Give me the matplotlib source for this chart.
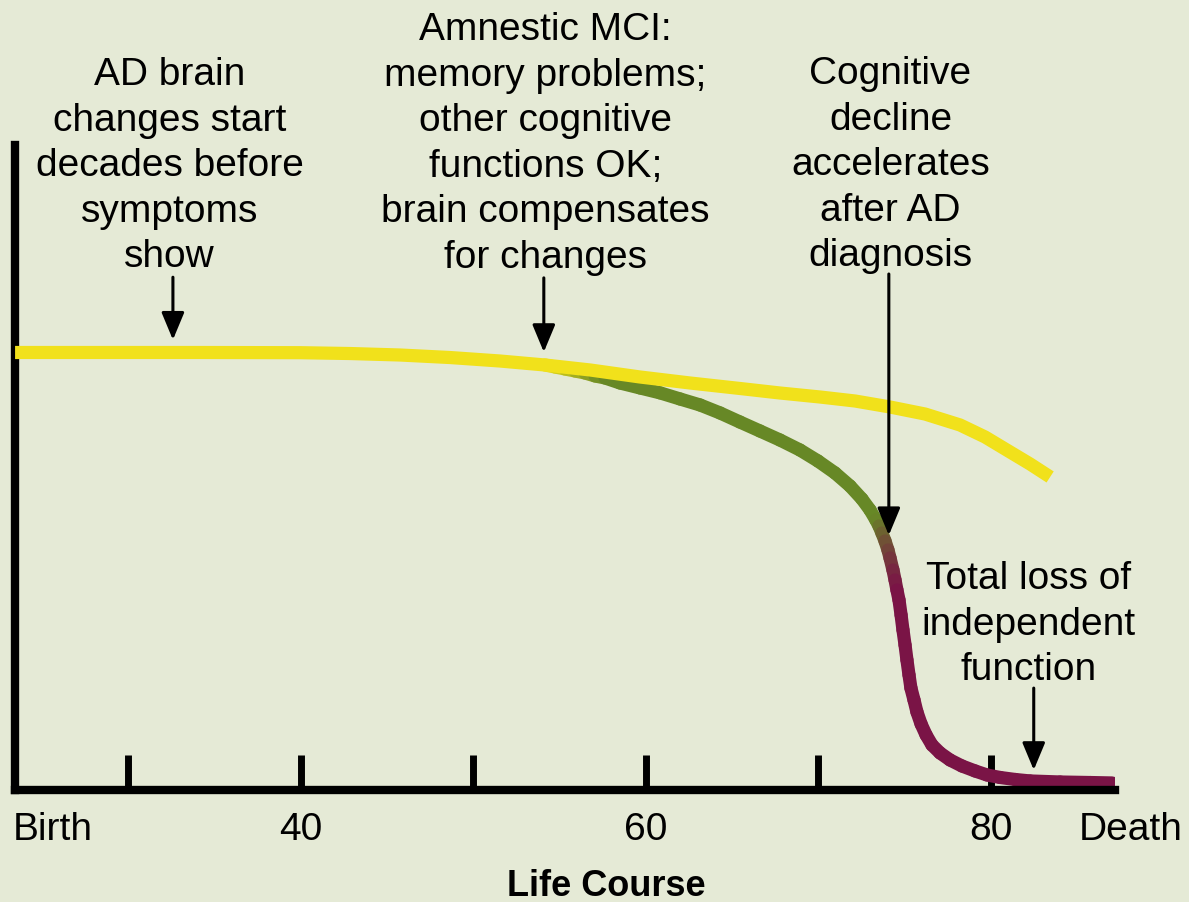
import numpy as np
import matplotlib.pyplot as plt
from matplotlib.collections import LineCollection
from matplotlib.colors import to_rgb

# Schematic values (x = age, y = cognitive function, 0-100)
normal_age = [23.45, 28.37, 34.17, 39.97, 42.87, 45.77, 48.66, 51.56, 54.17, 56.78, 59.68,
              62.58, 65.47, 67.79, 70.11, 72.14, 74.17, 76.20, 78.23, 79.68, 81.13, 82.29, 83.45]
normal_val = [67.83, 67.83, 67.83, 67.80, 67.67, 67.44, 67.05, 66.51, 65.89, 65.12, 64.03,
              63.10, 62.25, 61.55, 60.93, 60.31, 59.38, 58.29, 56.59, 54.73, 52.40, 50.54, 48.53]

ad_age = [54.17, 54.75, 55.33, 55.91, 56.49, 57.07, 57.65, 58.52, 59.68, 60.84, 62.00, 63.16,
          64.32, 65.47, 66.63, 67.79, 68.95, 69.99, 70.98, 71.85, 72.54, 73.01, 73.35, 73.53,
          73.70, 73.88, 74.05, 74.17, 74.34, 74.46, 74.57, 74.69, 74.81, 74.92, 75.04, 75.15,
          75.27, 75.38, 75.56, 75.73, 75.97, 76.26, 76.60, 77.07, 77.65, 78.34, 79.10, 79.79,
          80.55, 81.42, 82.29, 84.03, 85.77, 87.04]
ad_val = [65.89, 65.58, 65.27, 64.96, 64.65, 64.19, 63.88, 63.10, 62.33, 61.57, 60.62, 59.69,
          58.45, 57.05, 55.66, 54.26, 52.71, 51.01, 49.15, 47.13, 45.12, 43.41, 41.86, 40.93,
          39.84, 38.60, 37.21, 35.97, 34.11, 32.56, 31.01, 29.46, 27.13, 24.81, 22.48, 20.16,
          17.83, 15.81, 13.95, 12.09, 10.23, 8.53, 6.98, 5.74, 4.65, 3.72, 2.95, 2.33,
          1.94, 1.63, 1.40, 1.24, 1.16, 1.09]

tick_ages = [30, 40, 50, 60, 70, 80]
tick_labels = ['', '40', '', '60', '', '80']

notes = [
    ("AD brain\nchanges start\ndecades before\nsymptoms\nshow", 32.4, 113.6),
    ("Amnestic MCI:\nmemory problems;\nother cognitive\nfunctions OK;\nbrain compensates\nfor changes", 54.2, 120.6),
    ("Cognitive\ndecline\naccelerates\nafter AD\ndiagnosis", 74.2, 113.8),
    ("Total loss of\nindependent\nfunction", 82.2, 35.5),
]
# arrows: x, tail, tip
arrows = [(32.6, 79.5, 69.8), (54.1, 79.4, 67.9), (74.1, 80.0, 39.5), (82.5, 15.8, 3.1)]

bg = '#e5ead6'
yellow = '#f1e11b'
green = '#678826'
maroon = '#7a1446'

plt.rcParams['font.family'] = ['Liberation Sans', 'DejaVu Sans']

fig = plt.figure(figsize=(11.89, 9.02), dpi=100, facecolor=bg)
ax = fig.add_axes([0.01262, 0.12417, 0.92515, 0.71508], facecolor=bg)

# AD path with colour fading yellow -> green -> maroon
pts = np.column_stack([ad_age, ad_val])
segs = np.stack([pts[:-1], pts[1:]], axis=1)
mid = (np.array(ad_age[:-1]) + np.array(ad_age[1:])) / 2
stops = [54.2, 57.7, 73.4, 74.6]
cols = np.array([to_rgb(yellow), to_rgb(green), to_rgb(green), to_rgb(maroon)])
seg_cols = np.column_stack([np.interp(mid, stops, cols[:, k]) for k in range(3)])
lc = LineCollection(segs, colors=seg_cols, linewidths=9.5, capstyle='round', joinstyle='round', zorder=2)
ax.add_collection(lc)

# normal ageing
ax.plot(normal_age, normal_val, color=yellow, lw=9.5, solid_capstyle='butt',
        solid_joinstyle='round', zorder=3)

ax.set_xlim(23.446, 87.211)
ax.set_ylim(0, 100)
for s in ['top', 'right']:
    ax.spines[s].set_visible(False)
for s in ['left', 'bottom']:
    ax.spines[s].set_linewidth(6)
    ax.spines[s].set_color('black')

ax.set_yticks([])
ax.set_xticks(tick_ages)
ax.set_xticklabels(tick_labels)
ax.tick_params(axis='x', direction='in', length=25, width=5, pad=16, labelsize=28, color='black')

ax.annotate('Birth', xy=(23.3, 0), xycoords=('data', 'axes fraction'), xytext=(0, -16),
            textcoords='offset points', ha='left', va='top', fontsize=28)
ax.annotate('Death', xy=(88.1, 0), xycoords=('data', 'axes fraction'), xytext=(0, -16),
            textcoords='offset points', ha='center', va='top', fontsize=28, annotation_clip=False)

ax.set_xlabel('Life Course', fontsize=26, fontweight='bold')
ax.xaxis.set_label_coords(0.538, -0.122)

for txt, x, y in notes:
    ax.text(x, y, txt, ha='center', va='top', fontsize=28, linespacing=1.34, clip_on=False)

for x, tail, tip in arrows:
    ax.annotate('', xy=(x, tip), xytext=(x, tail),
                arrowprops=dict(arrowstyle='-|>,head_length=0.6,head_width=0.25', lw=2.2,
                                color='black', shrinkA=0, shrinkB=0, mutation_scale=28))

fig.savefig('out.png', dpi=100, facecolor=bg)
